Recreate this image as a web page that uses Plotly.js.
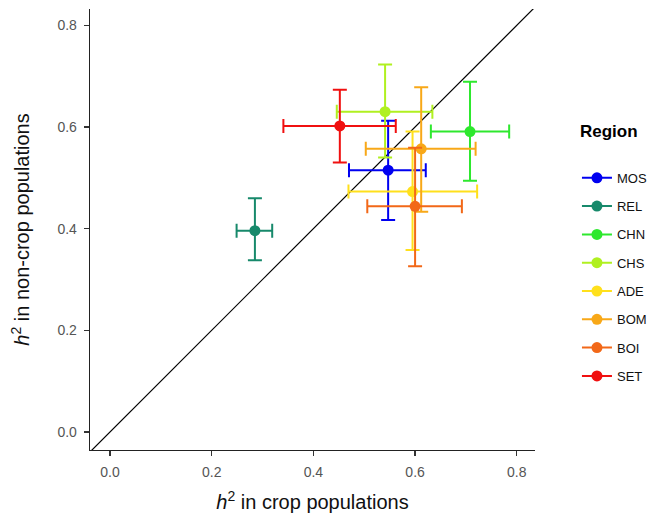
<!DOCTYPE html>
<html>
<head>
<meta charset="utf-8">
<script src="https://cdn.plot.ly/plotly-3.0.1.min.js"></script>
<style>html,body{margin:0;padding:0;background:#fff}#chart{width:667px;height:517px}</style>
</head>
<body>
<div id="chart"></div>
<script>
// Regions (legend order)
const regions = ["MOS", "REL", "CHN", "CHS", "ADE", "BOM", "BOI", "SET"];
// h2 in crop populations (x) with CI
const cropH2   = [0.547, 0.285, 0.708, 0.541, 0.595, 0.612, 0.600, 0.452];
const cropLow  = [0.470, 0.249, 0.631, 0.446, 0.469, 0.503, 0.506, 0.341];
const cropHigh = [0.621, 0.319, 0.785, 0.634, 0.722, 0.719, 0.692, 0.562];
// h2 in non-crop populations (y) with CI
const nonH2    = [0.515, 0.396, 0.591, 0.630, 0.473, 0.557, 0.444, 0.602];
const nonLow   = [0.417, 0.338, 0.494, 0.540, 0.358, 0.433, 0.326, 0.530];
const nonHigh  = [0.612, 0.460, 0.689, 0.723, 0.591, 0.678, 0.559, 0.673];
const colors   = ["#0000f0", "#17896b", "#2ee82e", "#b0f020", "#ffe01c", "#f8a818", "#f26818", "#f01010"];
const tickVals = [0, 0.2, 0.4, 0.6, 0.8];
const tickText = ["0.0", "0.2", "0.4", "0.6", "0.8"];
const xRange = [-0.0393, 0.8358];
const yRange = [-0.0354, 0.832];
const refLine = [-0.1, 1.0]; // 1:1 line

const traces = [{
  x: refLine, y: refLine, mode: "lines", type: "scatter",
  line: {color: "#000000", width: 1.2}, showlegend: false, hoverinfo: "skip"
}];
regions.forEach((r, i) => {
  traces.push({
    type: "scatter", mode: "lines+markers", name: r,
    legendgroup: r,
    x: [cropH2[i]], y: [nonH2[i]],
    marker: {color: colors[i], size: 11},
    line: {color: colors[i], width: 2},
    error_x: {type: "data", symmetric: false,
      array: [cropHigh[i] - cropH2[i]], arrayminus: [cropH2[i] - cropLow[i]],
      color: colors[i], thickness: 2, width: 7},
    error_y: {type: "data", symmetric: false,
      array: [nonHigh[i] - nonH2[i]], arrayminus: [nonH2[i] - nonLow[i]],
      color: colors[i], thickness: 2, width: 7}
  });
});

const axisCommon = {
  showgrid: false, zeroline: false, showline: true, linecolor: "#222", linewidth: 1.3,
  ticks: "outside", ticklen: 5, tickcolor: "#333", tickwidth: 1.2,
  ticklabelstandoff: 4,
  tickvals: tickVals, ticktext: tickText,
  tickfont: {family: "Liberation Sans, Arial, sans-serif", size: 14, color: "#555"}
};

const layout = {
  width: 667, height: 517,
  margin: {l: 90, r: 132, t: 9, b: 67},
  paper_bgcolor: "#fff", plot_bgcolor: "#fff",
  font: {family: "Liberation Sans, Arial, sans-serif"},
  xaxis: Object.assign({}, axisCommon, {range: xRange,
    title: {text: "<i>h</i><sup>2</sup> in crop populations", standoff: 16,
      font: {size: 20, color: "#111"}}}),
  yaxis: Object.assign({}, axisCommon, {range: yRange,
    title: {text: "<i>h</i><sup>2</sup> in non-crop populations", standoff: 22,
      font: {size: 20, color: "#111"}}}),
  showlegend: true,
  legend: {
    xref: "container", yref: "container", x: 0.865, y: 0.685, xanchor: "left", yanchor: "top",
    traceorder: "grouped", tracegroupgap: 8.4,
    font: {size: 13, color: "#111"}, bgcolor: "rgba(0,0,0,0)"
  },
  annotations: [{
    text: "<b>Region</b>", xref: "paper", yref: "paper",
    x: 1.097, y: 0.723, xanchor: "left", yanchor: "middle", showarrow: false,
    font: {size: 17, color: "#000"}
  }]
};

Plotly.newPlot("chart", traces, layout, {displayModeBar: false, staticPlot: true});
</script>
</body>
</html>
